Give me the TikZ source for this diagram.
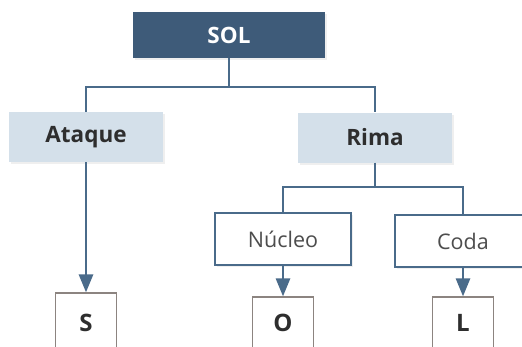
\documentclass[tikz,border=0pt]{standalone}
\usepackage{fontspec}
\setmainfont{Open Sans}
\usetikzlibrary{arrows.meta,shadows}
\definecolor{solblue}{HTML}{3E5B79}
\definecolor{paleblue}{HTML}{D4E0EA}
\definecolor{linkblue}{HTML}{4A6B8A}
\definecolor{inkgray}{HTML}{2E2E2E}
\definecolor{boxedge}{HTML}{8C8480}
\tikzset{
  softshadow/.style={drop shadow={opacity=0.12, shadow xshift=2pt, shadow yshift=-2pt}},
  rootbox/.style={fill=solblue, text=white, softshadow, inner sep=0pt,
    font=\bfseries\fontsize{22.5}{26}\selectfont, minimum width=192pt, minimum height=46pt},
  partbox/.style={fill=paleblue, text=inkgray, softshadow, inner sep=0pt,
    font=\bfseries\fontsize{22.5}{26}\selectfont, minimum width=154pt, minimum height=50pt},
  subbox/.style={draw=linkblue, line width=1.8pt, fill=white, text=inkgray!85, softshadow, inner sep=0pt,
    font=\fontsize{21.5}{25}\selectfont, minimum width=136pt, minimum height=52pt},
  letterbox/.style={draw=boxedge, line width=1.2pt, fill=white, text=inkgray, inner sep=0pt,
    font=\bfseries\fontsize{24}{28}\selectfont, minimum width=61pt, minimum height=52pt},
  link/.style={draw=linkblue, line width=2.7pt},
  arrowlink/.style={link, -{Triangle[length=18pt,width=14pt]}, linkblue}
}

\begin{document}
\begin{tikzpicture}[x=1pt, y=-1pt]
  \useasboundingbox (0,0) rectangle (522,346);
  \clip (0,0) rectangle (522,346);
  \fill[white] (0,0) rectangle (522,346);

  \node[rootbox] (sol) at (229,35) {SOL};
  \node[partbox] (ataque) at (86,137) {Ataque};
  \node[partbox] (rima) at (375,137.5) {Rima};
  \node[subbox] (nucleo) at (283,239) {Núcleo};
  \node[subbox] (coda) at (463,241) {Coda};
  \node[letterbox, minimum height=60pt] (s) at (86,323) {S};
  \node[letterbox] (o) at (283,323) {O};
  \node[letterbox] (l) at (463,323) {L};

  \coordinate (fork1) at (229,87);
  \coordinate (fork2) at (375,187);

  \draw[link] (sol) -- (fork1);
  \draw[link] (fork1) -| (ataque);
  \draw[link] (fork1) -| (rima);
  \draw[link] (rima) -- (fork2);
  \draw[link] (fork2) -| (nucleo);
  \draw[link] (fork2) -| (coda);

  \draw[arrowlink] (ataque) -- (s);
  \draw[arrowlink] (nucleo) -- (o);
  \draw[arrowlink] (coda) -- (l);
\end{tikzpicture}
\end{document}
